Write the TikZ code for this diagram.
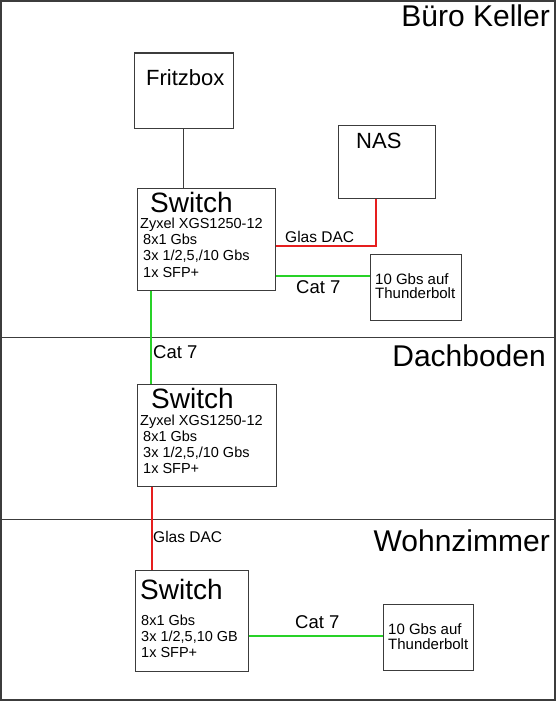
\documentclass[tikz,border=0pt]{standalone}
\usepackage{fontspec}
\setmainfont{Liberation Sans}
\usetikzlibrary{positioning,calc}
\definecolor{kabelrot}{RGB}{230,30,30}
\definecolor{kabelgruen}{RGB}{40,210,40}
\definecolor{rahmen}{RGB}{60,60,60}

\begin{document}
\begin{tikzpicture}[x=1pt,y=-1pt,
  kasten/.style={draw=rahmen,line width=1.2pt,rectangle,anchor=north west,inner sep=0pt},
  zeile/.style={anchor=base west,inner sep=0pt,font=\fontsize{14.5}{16.5}\selectfont},
  gross/.style={anchor=base west,inner sep=0pt,font=\fontsize{28}{30}\selectfont},
  raum/.style={anchor=base east,inner sep=0pt,font=\fontsize{30}{32}\selectfont},
  kabel/.style={anchor=base west,inner sep=0pt,font=\fontsize{15.5}{17}\selectfont},
  katsieben/.style={anchor=base west,inner sep=0pt,font=\fontsize{18.5}{20}\selectfont},
  rotkabel/.style={draw=kabelrot,line width=2pt},
  gruenkabel/.style={draw=kabelgruen,line width=2pt}]
  \useasboundingbox (0,0) rectangle (556,701);

  % Stockwerke
  \draw[rahmen,line width=1.5pt] (1,1) rectangle (555,700);
  \draw[rahmen,line width=1.2pt] (1,337.5) -- (555,337.5);
  \draw[rahmen,line width=1.2pt] (1,519.5) -- (555,519.5);
  \node[raum] (keller) at (550,27) {Büro Keller};
  \node[raum] (dach) at (546,366) {Dachboden};
  \node[raum] (wohn) at (550,551) {Wohnzimmer};

  % Geraete
  \node[kasten,minimum width=99pt,minimum height=75pt] (fritz) at (133.5,52.5) {};
  \node[kasten,minimum width=97pt,minimum height=73pt] (nas) at (337.5,124.5) {};
  \node[kasten,minimum width=138pt,minimum height=102pt] (sw1) at (136.5,187.5) {};
  \node[kasten,minimum width=91pt,minimum height=66pt] (tb1) at (369.5,253.5) {};
  \node[kasten,minimum width=139pt,minimum height=102pt] (sw2) at (136.5,383.5) {};
  \node[kasten,minimum width=113pt,minimum height=101pt] (sw3) at (134.5,569.5) {};
  \node[kasten,minimum width=90pt,minimum height=66pt] (tb2) at (382.5,603.5) {};

  \node[anchor=base west,inner sep=0pt,font=\fontsize{22}{24}\selectfont] (fritzt) at (146,85) {Fritzbox};
  \node[anchor=base west,inner sep=0pt,font=\fontsize{22}{24}\selectfont] (nast) at (356,148) {NAS};

  \node[gross] (sw1t) at (150,212) {Switch};
  \foreach \z [count=\i from 0] in {{Zyxel XGS1250-12},{\hspace*{3pt}8x1 Gbs},{\hspace*{3pt}3x 1/2,5,/10 Gbs},{\hspace*{3pt}1x SFP+}}
    \node[zeile] (sw1z\i) at (140,228+16.4*\i) {\z};

  \node[gross] (sw2t) at (151,408) {Switch};
  \foreach \z [count=\i from 0] in {{Zyxel XGS1250-12},{\hspace*{3pt}8x1 Gbs},{\hspace*{3pt}3x 1/2,5,/10 Gbs},{\hspace*{3pt}1x SFP+}}
    \node[zeile] (sw2z\i) at (140,425+16*\i) {\z};

  \node[gross] (sw3t) at (140,599) {Switch};
  \foreach \z [count=\i from 0] in {{8x1 Gbs},{3x 1/2,5,10 GB},{1x SFP+}}
    \node[zeile] (sw3z\i) at (141,625+16*\i) {\z};

  \node[zeile,font=\fontsize{15}{15}\selectfont] (tb1a) at (375,284) {10 Gbs auf};
  \node[zeile,font=\fontsize{15}{15}\selectfont] (tb1b) at (375,298) {Thunderbolt};
  \node[zeile,font=\fontsize{15}{15}\selectfont] (tb2a) at (388,634) {10 Gbs auf};
  \node[zeile,font=\fontsize{15}{15}\selectfont] (tb2b) at (388,649) {Thunderbolt};

  % Verbindungen
  \draw[rahmen,line width=1.2pt] (fritz.south) -- (fritz.south |- sw1.north);
  \draw[rotkabel] ([yshift=-7pt]sw1.east) -| ([xshift=-11pt]nas.south);
  \draw[gruenkabel] ([yshift=-37pt]sw1.east) coordinate (g1) -- (g1 -| tb1.west);
  \draw[gruenkabel] ([xshift=14pt]sw1.south west) coordinate (g2) -- (g2 |- sw2.north);
  \draw[rotkabel] ([xshift=15pt]sw2.south west) coordinate (r2) -- (r2 |- sw3.north);
  \draw[gruenkabel] ([yshift=-15pt]sw3.east) coordinate (g3) -- (g3 -| tb2.west);

  \node[kabel] (glas1) at (285,242) {Glas DAC};
  \node[katsieben] (cat1) at (296,293) {Cat 7};
  \node[katsieben] (cat2) at (153,358) {Cat 7};
  \node[kabel] (glas2) at (153,542) {Glas DAC};
  \node[katsieben] (cat3) at (295,628) {Cat 7};
\end{tikzpicture}
\end{document}
